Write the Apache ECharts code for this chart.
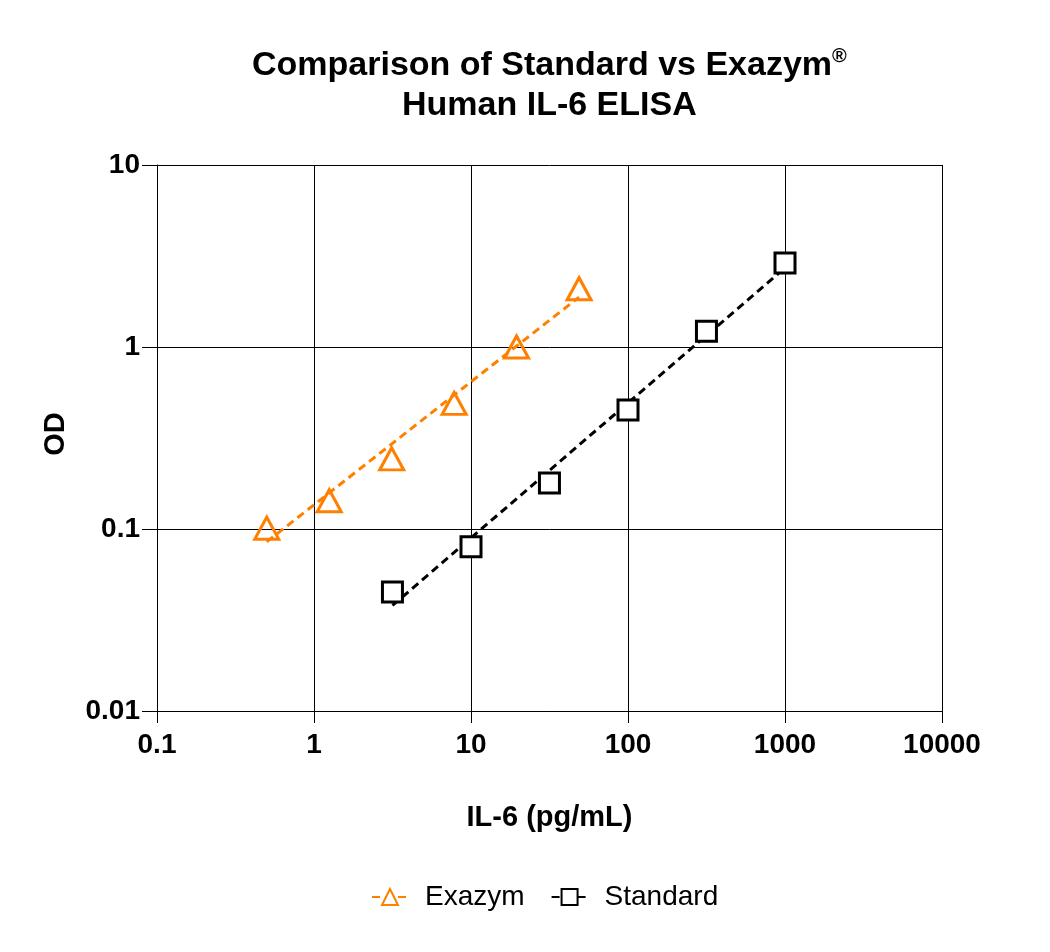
<!DOCTYPE html>
<html><head><meta charset="utf-8">
<script src="https://cdn.jsdelivr.net/npm/echarts@6/dist/echarts.min.js"></script>
<style>html,body{margin:0;padding:0;background:#fff}#c{width:1050px;height:952px}</style>
</head><body><div id="c"></div>
<script>
// Data
const exazymX = [0.5, 1.25, 3.125, 7.81, 19.5, 48.8];
const exazymOD = [0.101, 0.143, 0.243, 0.49, 1.0, 2.09];
const exazymTrendX = [0.5, 48.8];
const exazymTrendOD = [0.085, 1.88];
const standardX = [3.16, 10, 31.6, 100, 316, 1000];
const standardOD = [0.045, 0.080, 0.179, 0.451, 1.22, 2.89];
const standardTrendX = [3.16, 1000];
const standardTrendOD = [0.038, 2.72];
const xTicks = ['0.1', '1', '10', '100', '1000', '10000'];
const yTicks = ['0.01', '0.1', '1', '10'];

const ORANGE = '#FF8000';
const FONT = 'Liberation Sans, Arial, sans-serif';
const zip = (a, b) => a.map((v, i) => [v, b[i]]);
const fmt = v => { const e = Math.round(Math.log10(v)); return v >= 1 ? String(Math.round(v)) : v.toFixed(-e); };

const chart = echarts.init(document.getElementById('c'));
chart.setOption({
  backgroundColor: '#fff',
  animation: false,
  title: {
    left: 252, top: 46, padding: 0,
    text: '{a|Comparison of Standard vs Exazym}{s|®}\n{a|Human IL-6 ELISA}',
    textStyle: {
      rich: {
        a: { fontFamily: FONT, fontWeight: 'bold', fontSize: 34, color: '#000', lineHeight: 40, align: 'center' },
        s: { fontFamily: FONT, fontSize: 20, color: '#000', verticalAlign: 'top', padding: [0, 0, 16, 0] }
      }
    }
  },
  grid: { left: 157, right: 108, top: 165, bottom: 241 },
  legend: {
    bottom: 36, left: 366,
    itemWidth: 36, itemHeight: 20, itemGap: 26,
    textStyle: { fontFamily: FONT, fontSize: 28, color: '#000', padding: [0, 0, 0, 12] },
    data: ['Exazym', 'Standard']
  },
  xAxis: {
    type: 'log', logBase: 10, min: 0.1, max: 10000,
    name: 'IL-6 (pg/mL)', nameLocation: 'middle', nameGap: 92,
    nameTextStyle: { fontFamily: FONT, fontWeight: 'bold', fontSize: 29, color: '#000' },
    axisLine: { show: true, lineStyle: { color: '#000', width: 1 } },
    axisTick: { show: true, length: 12, inside: false, lineStyle: { color: '#000' } },
    minorTick: { show: false },
    splitLine: { show: true, lineStyle: { color: '#000', width: 1 } },
    axisLabel: { margin: 20, fontFamily: FONT, fontWeight: 'bold', fontSize: 28, color: '#000',
      formatter: v => xTicks.includes(fmt(v)) ? fmt(v) : '' }
  },
  yAxis: {
    type: 'log', logBase: 10, min: 0.01, max: 10,
    name: 'OD', nameLocation: 'middle', nameGap: 87,
    nameTextStyle: { fontFamily: FONT, fontWeight: 'bold', fontSize: 29, color: '#000', padding: [0, 0, 0, 8] },
    axisLine: { show: true, lineStyle: { color: '#000', width: 1 } },
    axisTick: { show: true, length: 15, inside: false, lineStyle: { color: '#000' } },
    minorTick: { show: false },
    splitLine: { show: true, lineStyle: { color: '#000', width: 1 } },
    axisLabel: { margin: 17, fontFamily: FONT, fontWeight: 'bold', fontSize: 28, color: '#000',
      formatter: v => yTicks.includes(fmt(v)) ? fmt(v) : '' }
  },
  series: [
    {
      name: 'Exazym', type: 'line', data: zip(exazymTrendX, exazymTrendOD),
      showSymbol: false, symbol: 'triangle', symbolSize: [22, 20], z: 2,
      lineStyle: { color: ORANGE, width: 3, type: [8, 5] },
      itemStyle: { color: '#fff', borderColor: ORANGE, borderWidth: 3 }
    },
    {
      name: 'Standard', type: 'line', data: zip(standardTrendX, standardTrendOD),
      showSymbol: false, symbol: 'rect', symbolSize: 18, z: 2,
      lineStyle: { color: '#000', width: 3, type: [8, 5] },
      itemStyle: { color: '#fff', borderColor: '#000', borderWidth: 3 }
    },
    {
      name: 'Exazym', type: 'scatter', data: zip(exazymX, exazymOD), z: 3,
      symbol: 'triangle', symbolSize: [24, 22],
      itemStyle: { color: 'rgba(255,255,255,0)', borderColor: ORANGE, borderWidth: 3, opacity: 1 }
    },
    {
      name: 'Standard', type: 'scatter', data: zip(standardX, standardOD), z: 3,
      symbol: 'rect', symbolSize: 20,
      itemStyle: { color: '#fff', borderColor: '#000', borderWidth: 3, opacity: 1 }
    }
  ]
});
</script></body></html>
